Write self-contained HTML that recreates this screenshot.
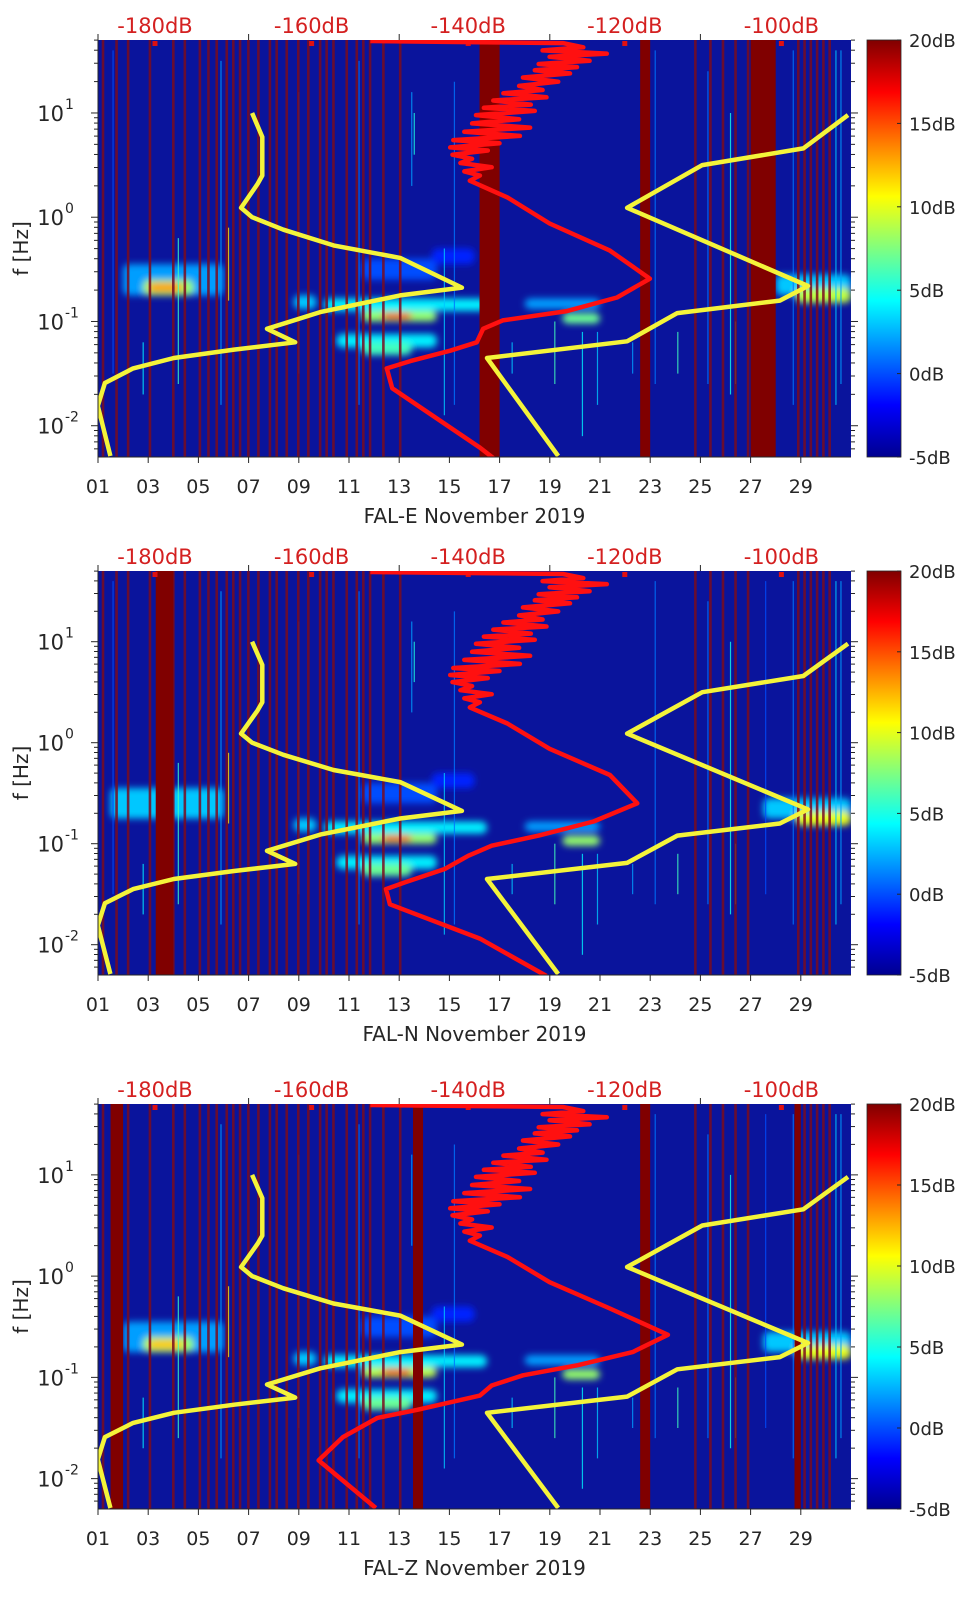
<!DOCTYPE html>
<html><head><meta charset="utf-8"><style>
html,body{margin:0;padding:0;background:#fff;}
svg{display:block;font-family:"DejaVu Sans","Liberation Sans",sans-serif;}
</style></head>
<body>
<svg id="fig" width="962" height="1599" viewBox="0 0 962 1599" xmlns="http://www.w3.org/2000/svg">
<defs>
<linearGradient id="jet" x1="0" y1="1" x2="0" y2="0">
<stop offset="0" stop-color="#00008f"/><stop offset="0.125" stop-color="#0000ff"/>
<stop offset="0.375" stop-color="#00ffff"/><stop offset="0.625" stop-color="#ffff00"/>
<stop offset="0.875" stop-color="#ff0000"/><stop offset="1" stop-color="#800000"/>
</linearGradient>
<filter id="blur" x="-20%" y="-80%" width="140%" height="260%"><feGaussianBlur stdDeviation="3.5"/></filter>
</defs>
</svg>
<script>
// ---- data ----
const dayTicks = [1,3,5,7,9,11,13,15,17,19,21,23,25,27,29];
const dayTickLabels = ["01","03","05","07","09","11","13","15","17","19","21","23","25","27","29"];
const topTickDays = [1,7,13,19,25];
const dbTicks = [-180,-160,-140,-120,-100];
const dbTickLabels = ["-180dB","-160dB","-140dB","-120dB","-100dB"];
const cbTicks = [-5,0,5,10,15,20];
const cbTickLabels = ["-5dB","0dB","5dB","10dB","15dB","20dB"];
const freqDecades = [1,0,-1,-2];
const panelTitles = ["FAL-E November 2019","FAL-N November 2019","FAL-Z November 2019"];

// low noise model (log10 f, dB)
const nlnmLogF = [1.0,0.77,0.40,0.32,0.09,0.0,-0.12,-0.27,-0.39,-0.675,-0.75,-0.91,-1.07,-1.2,-1.27,-1.35,-1.45,-1.59,-1.81,-2.29];
const nlnmDb   = [-167.6,-166.3,-166.3,-166.9,-169.0,-167.6,-163.6,-157.2,-148.7,-140.8,-148.7,-158.9,-165.7,-162.1,-169.9,-177.6,-182.8,-186.4,-187.3,-185.7];
// high noise model
const nhnmLogF = [0.98,0.66,0.50,0.09,-0.66,-0.80,-0.92,-1.19,-1.35,-2.29];
const nhnmDb   = [-91.5,-97.2,-110.1,-119.7,-96.6,-100.2,-113.3,-119.7,-137.6,-128.5];

// red median curves (upper jagged part shared)
const redUpperLogF = [1.69,1.68,1.67,1.63,1.60,1.57,1.54,1.50,1.47,1.44,1.41,1.38,1.34,1.30,1.26,1.22,1.19,1.15,1.12,1.08,1.05,1.02,0.98,0.94,0.90,0.86,0.82,0.78,0.74,0.71,0.67,0.64,0.60,0.56,0.52,0.48,0.44,0.40,0.35,0.19,-0.06,-0.32];
const redUpperDb   = [-152.5,-140,-127.9,-125.3,-130.5,-122.3,-129.6,-124.5,-131.0,-126.1,-131.5,-127.0,-133.0,-128.5,-133.5,-130.5,-135.5,-130.0,-136.8,-132.0,-138.0,-131.5,-139.0,-133.5,-139.5,-132.1,-140.5,-133.4,-141.9,-136.0,-142.3,-137.5,-142.0,-139.5,-141.0,-137.0,-140.5,-138.5,-139.8,-135.0,-129.6,-121.9];
const red1LowLogF = [-0.59,-0.77,-0.90,-0.99,-1.07,-1.20,-1.28,-1.38,-1.45,-1.64,-2.21,-2.31];
const red1LowDb   = [-116.8,-121.0,-127.4,-135.6,-138.1,-138.9,-142.3,-147.4,-150.4,-149.7,-138.5,-136.8];
const red2LowLogF = [-0.60,-0.78,-0.92,-1.02,-1.12,-1.25,-1.38,-1.45,-1.60,-1.94,-2.31];
const red2LowDb   = [-118.4,-124.0,-131.0,-137.0,-140.0,-143.0,-148.0,-150.5,-150.0,-138.5,-130.0];
const red3LowLogF = [-0.58,-0.75,-0.88,-0.98,-1.08,-1.18,-1.32,-1.40,-1.59,-1.82,-2.29];
const red3LowDb   = [-114.5,-119.0,-126.0,-133.0,-137.0,-138.5,-146.5,-151.6,-156.0,-159.1,-151.8];

// wide saturated stripes per panel [startDay, endDay]
const wide1 = [[16.2,17.0],[22.6,23.0],[27.0,28.0]];
const wide2 = [[3.3,4.0]];
const wide3 = [[1.5,2.0],[13.55,13.95],[22.6,23.0],[28.75,29.0]];
// thin saturated stripes (days)
const thinDays = [1.2,1.74,2.2,3.07,4.0,4.46,5.06,5.4,5.73,6.13,6.39,6.66,6.99,7.39,7.85,8.12,8.52,8.98,9.38,9.85,10.11,10.38,10.91,11.31,11.57,11.84,12.37,13.04,24.8,25.4,25.9,26.4,26.9,28.9,29.15,29.4,29.65,29.9,30.15];
// blobs [d0,d1,logf0,logf1,dB]
const blobs1 = [[2.0,6.0,-0.75,-0.45,2],[2.8,4.8,-0.75,-0.6,8],[3.0,4.4,-0.72,-0.63,13],[8.8,9.7,-0.88,-0.75,3],[10.0,16.5,-0.9,-0.78,4],[11.5,14.5,-1.0,-0.9,8],[12.3,13.5,-0.98,-0.92,17],[10.5,14.5,-1.25,-1.12,4],[11.5,13.5,-1.32,-1.2,6],[11.5,14.5,-0.6,-0.4,0],[14.3,16,-0.45,-0.3,-1],[18,21,-0.88,-0.78,2],[19.5,21,-1.02,-0.92,7],[28,31,-0.75,-0.55,3],[28.8,31,-0.82,-0.68,9]];
const blobs2 = [[1.5,6.0,-0.75,-0.45,3],[8.8,9.7,-0.88,-0.75,3],[10.0,16.5,-0.9,-0.78,4],[11.5,14.5,-1.0,-0.9,8],[12.3,13.5,-0.98,-0.92,16],[10.5,14.5,-1.25,-1.12,4],[11.5,13.5,-1.32,-1.2,7],[11.5,14.5,-0.6,-0.4,0],[14.3,16,-0.45,-0.3,-1],[18,21,-0.88,-0.78,2],[19.5,21,-1.02,-0.92,8],[27.5,31,-0.75,-0.55,3],[28.8,31,-0.82,-0.68,10]];
const blobs3 = [[2.0,6.0,-0.75,-0.45,2],[2.8,4.8,-0.75,-0.6,8],[3.0,4.4,-0.72,-0.63,12],[8.8,9.7,-0.88,-0.75,3],[10.0,16.5,-0.9,-0.78,4],[11.5,14.5,-1.0,-0.9,9],[12.3,13.5,-0.98,-0.92,17],[10.5,14.5,-1.25,-1.12,4],[11.5,13.5,-1.32,-1.2,7],[11.5,14.5,-0.6,-0.4,0],[14.3,16,-0.45,-0.3,-1],[18,21,-0.88,-0.78,2],[19.5,21,-1.02,-0.92,8],[27.5,31,-0.75,-0.55,3],[28.8,31,-0.82,-0.68,10]];
// bright streaks [day, logf0, logf1, dB]
const streaks = [[13.5,0.3,1.2,2],[13.6,0.6,1.0,5],[11.4,-1.8,1.5,1],[14.8,-1.9,-0.3,3],[15.2,-1.8,1.3,1],[19.2,-1.6,-1.0,6],[20.3,-2.1,-1.1,4],[20.9,-1.8,-1.1,3],[23.2,-1.6,1.6,1],[26.2,-1.7,1.0,5],[26.4,-1.6,-1.0,7],[27.6,-1.5,1.6,0],[28.7,-1.8,1.6,1],[4.2,-1.6,-0.2,6],[6.2,-0.8,-0.1,11],[2.8,-1.7,-1.2,4],[1.6,-1.5,1.6,0],[17.5,-1.5,-1.2,3],[24.1,-1.5,-1.1,6],[30.4,-1.8,1.6,3],[30.6,-1.6,1.6,2],[22.3,-1.5,-1.2,2],[25.3,-1.6,1.4,1],[5.9,-1.8,1.5,2],[9.0,-1.5,1.2,1]];

// ---- layout ----
const X0 = 98, X1 = 851, CB0 = 867, CB1 = 901;
const panels = [
  {top:40, bot:457, red:[red1LowLogF,red1LowDb], wide:wide1, blobs:blobs1},
  {top:571, bot:975, red:[red2LowLogF,red2LowDb], wide:wide2, blobs:blobs2},
  {top:1104, bot:1509, red:[red3LowLogF,red3LowDb], wide:wide3, blobs:blobs3}
];
const LF_MAX = 1.7, LF_MIN = -2.3;
const xDay = d => X0 + (d-1)*(X1-X0)/30;
const xDb = db => 155 + (db+180)*7.83;
const NS = "http://www.w3.org/2000/svg";
const svg = document.getElementById('fig');
function el(tag, attrs, parent, txt){const e=document.createElementNS(NS,tag);for(const k in attrs)e.setAttribute(k,attrs[k]);if(txt!==undefined)e.textContent=txt;(parent||svg).appendChild(e);return e;}
function jet(v){const t=Math.max(0,Math.min(1,(v+5)/25));const c=x=>Math.round(255*Math.max(0,Math.min(1,x)));return `rgb(${c(1.5-Math.abs(4*t-3))},${c(1.5-Math.abs(4*t-2))},${c(1.5-Math.abs(4*t-1))})`;}

panels.forEach((p,i)=>{
  const yF = lf => p.top + (LF_MAX-lf)*(p.bot-p.top)/(LF_MAX-LF_MIN);
  const g = el('g',{});
  
  
  const cid='clip'+i;
  const cp=el('clipPath',{id:cid},g); el('rect',{x:X0,y:p.top,width:X1-X0,height:p.bot-p.top},cp);
  const plot=el('g',{'clip-path':`url(#${cid})`},g);
  
  
  el('rect',{x:X0,y:p.top,width:X1-X0,height:p.bot-p.top,fill:'#0a149c'},plot);
  const bg=el('g',{filter:'url(#blur)'},plot);
  p.blobs.forEach(b=>{const r=el('rect',{x:xDay(b[0]),y:yF(b[3]),width:xDay(b[1])-xDay(b[0]),height:yF(b[2])-yF(b[3]),fill:jet(b[4]),rx:6},bg);
    });
  streaks.forEach(s=>{const l=el('line',{x1:xDay(s[0]),x2:xDay(s[0]),y1:yF(s[2]),y2:yF(s[1]),stroke:jet(s[3]),'stroke-width':1.2,opacity:0.8},plot);
    });
  thinDays.forEach(d=>{const r=el('rect',{x:xDay(d)-1.3,y:p.top,width:2.6,height:p.bot-p.top,fill:'#7a0c1e',opacity:0.85},plot);
    });
  p.wide.forEach(w=>{const r=el('rect',{x:xDay(w[0]),y:p.top,width:xDay(w[1])-xDay(w[0]),height:p.bot-p.top,fill:'#800000'},plot);
    });
  dbTicks.forEach(db=>{const r=el('rect',{x:xDb(db)-2.5,y:p.top+1,width:5,height:5,fill:'#e01010'},plot);
    });
  const pts=(lf,db)=>lf.map((f,k)=>xDb(db[k]).toFixed(1)+','+yF(f).toFixed(1)).join(' ');
  const nl=el('polyline',{points:pts(nlnmLogF,nlnmDb),fill:'none',stroke:'#f4f43a','stroke-width':4.5,'stroke-linejoin':'round'},plot);
  
  const nh=el('polyline',{points:pts(nhnmLogF,nhnmDb),fill:'none',stroke:'#f4f43a','stroke-width':4.5,'stroke-linejoin':'round'},plot);
  
  const rl=el('polyline',{points:pts(redUpperLogF.concat(p.red[0]),redUpperDb.concat(p.red[1])),fill:'none',stroke:'#ff1010','stroke-width':4.5,'stroke-linejoin':'round'},plot);
  
  const ax=el('g',{stroke:'#262626','stroke-width':1},g);
  
  el('line',{x1:X0,x2:X0,y1:p.top,y2:p.bot},ax);
  el('line',{x1:X0,x2:X1,y1:p.bot,y2:p.bot},ax);
  dayTicks.forEach((d,k)=>{
    el('line',{x1:xDay(d),x2:xDay(d),y1:p.bot,y2:p.bot+6},ax);
    const t=el('text',{x:xDay(d),y:p.bot+36,'text-anchor':'middle','font-size':19,fill:'#262626'},g,dayTickLabels[k]);
    
  });
  topTickDays.forEach(d=>el('line',{x1:xDay(d),x2:xDay(d),y1:p.top,y2:p.top-6},ax));
  dbTicks.forEach((db,k)=>{
    const t=el('text',{x:xDb(db),y:p.top-7,'text-anchor':'middle','font-size':21,fill:'#d42020'},g,dbTickLabels[k]);
    
  });
  for(let dec=-3;dec<=1;dec++){for(let m=1;m<=9;m++){const lf=dec+Math.log10(m);if(lf<LF_MIN||lf>LF_MAX)continue;
    const L=m===1?7:4; el('line',{x1:X0-L,x2:X0,y1:yF(lf),y2:yF(lf)},ax); el('line',{x1:X1,x2:X1+L,y1:yF(lf),y2:yF(lf)},ax);}}
  freqDecades.forEach(dec=>{
    const t=el('text',{x:64,y:yF(dec)+8,'text-anchor':'end','font-size':21,fill:'#262626'},g,'10');
    
    el('text',{x:65,y:yF(dec)-4,'font-size':14,fill:'#262626'},g,String(dec));
  });
  const yl=el('text',{x:0,y:0,transform:`translate(28,${(p.top+p.bot)/2}) rotate(-90)`,'text-anchor':'middle','font-size':20,fill:'#262626'},g,'f [Hz]');
  
  const xt=el('text',{x:(X0+X1)/2,y:p.bot+66,'text-anchor':'middle','font-size':20,fill:'#262626'},g,panelTitles[i]);
  
  const cb=el('rect',{x:CB0,y:p.top,width:CB1-CB0,height:p.bot-p.top,fill:'url(#jet)',stroke:'#262626','stroke-width':0.8},g);
  
  cbTicks.forEach((v,k)=>{const y=p.bot-(v+5)/25*(p.bot-p.top);
    el('line',{x1:CB1-4,x2:CB1,y1:y,y2:y,stroke:'#262626'},g);
    const t=el('text',{x:909,y:y+7,'font-size':18,fill:'#262626'},g,cbTickLabels[k]);
    });
});
</script>
</body></html>
